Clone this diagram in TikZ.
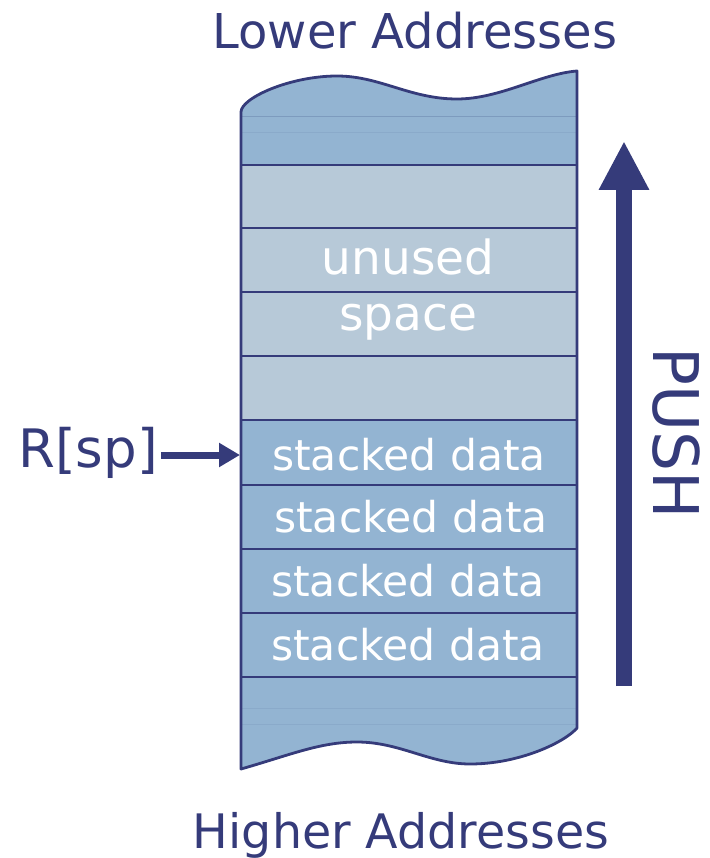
\documentclass[tikz,border=0pt]{standalone}
\usepackage{fontspec}
\setmainfont{DejaVu Sans}
\usepackage{tikz}
\usetikzlibrary{arrows.meta}

\definecolor{inkblue}{RGB}{53,59,122}
\definecolor{stackblue}{RGB}{147,180,210}
\definecolor{stackpale}{RGB}{183,201,216}
\definecolor{faintline}{RGB}{125,155,190}

\tikzset{
  bigtext/.style={text=inkblue, inner sep=0pt, anchor=base, font=\fontsize{48}{56}\selectfont},
  celltext/.style={text=white, inner sep=0pt, anchor=base, font=\fontsize{42.5}{50}\selectfont},
  freetext/.style={text=white, inner sep=0pt, anchor=base, font=\fontsize{47}{56}\selectfont},
  rowline/.style={draw=inkblue, line width=2pt},
}

\begin{document}
\begin{tikzpicture}[x=1pt, y=-1pt]
		\useasboundingbox (0,0) rectangle (709,858);
		% stack body with wavy ends
		\fill[stackblue] (241,769) .. controls (290,755) and (320,742) .. (357,742)
			.. controls (400,742) and (430,764) .. (470,764)
			.. controls (520,764) and (565,742) .. (577,728) -- (577,71)
			.. controls (540,74) and (500,99) .. (457,99)
			.. controls (410,99) and (380,76) .. (337,76)
			.. controls (290,76) and (241,98) .. (241,112) -- cycle;
		\fill[stackpale] (241,165) rectangle (577,420);
		\draw[faintline, line width=0.8pt] (241,116) -- (577,116);
		\draw[faintline!40!stackblue, line width=0.6pt] (241,132) -- (577,132);
		\draw[faintline!40!stackblue, line width=0.6pt] (241,708) -- (577,708);
		\draw[faintline!40!stackblue, line width=0.6pt] (241,724) -- (577,724);
		\foreach \y in {165,228,292,356,420,485,549,613,677}
			\draw[rowline] (241,\y) -- (577,\y);
		\draw[inkblue, line width=2.8pt, line join=round] (241,769) .. controls (290,755) and (320,742) .. (357,742)
			.. controls (400,742) and (430,764) .. (470,764)
			.. controls (520,764) and (565,742) .. (577,728) -- (577,71)
			.. controls (540,74) and (500,99) .. (457,99)
			.. controls (410,99) and (380,76) .. (337,76)
			.. controls (290,76) and (241,98) .. (241,112) -- cycle;
		% texts inside the stack
		\node[freetext] (unused) at (408,275) {unused};
		\node[freetext] (space) at (408,330) {space};
		\node[celltext] (data1) at (409,470) {stacked data};
		\node[celltext] (data2) at (411,532) {stacked data};
		\node[celltext] (data3) at (408,596) {stacked data};
		\node[celltext] (data4) at (408,660) {stacked data};
		% labels
		\node[bigtext] (lower) at (415,49) {Lower Addresses};
		\node[bigtext, font=\fontsize{47.5}{56}\selectfont] (higher) at (401,848) {Higher Addresses};
		\node[bigtext, font=\fontsize{53}{60}\selectfont] (sp) at (88,467) {R[sp]};
		\node[bigtext, font=\fontsize{63}{70}\selectfont, rotate=-90] (push) at (653,433) {PUSH};
		% arrows
		\coordinate (sptip) at (240,455);
		\draw[-{Triangle[width=23pt,length=21pt]}, inkblue, line width=7pt] (sp.east |- sptip) ++(3,0) -- (sptip);
		\coordinate (pushtail) at (624,686);
		\coordinate (pushhead) at (624,141);
		\draw[-{Triangle[width=47pt,length=49pt]}, inkblue, line width=16pt] (pushtail) -- (pushhead);
	\end{tikzpicture}
\end{document}
